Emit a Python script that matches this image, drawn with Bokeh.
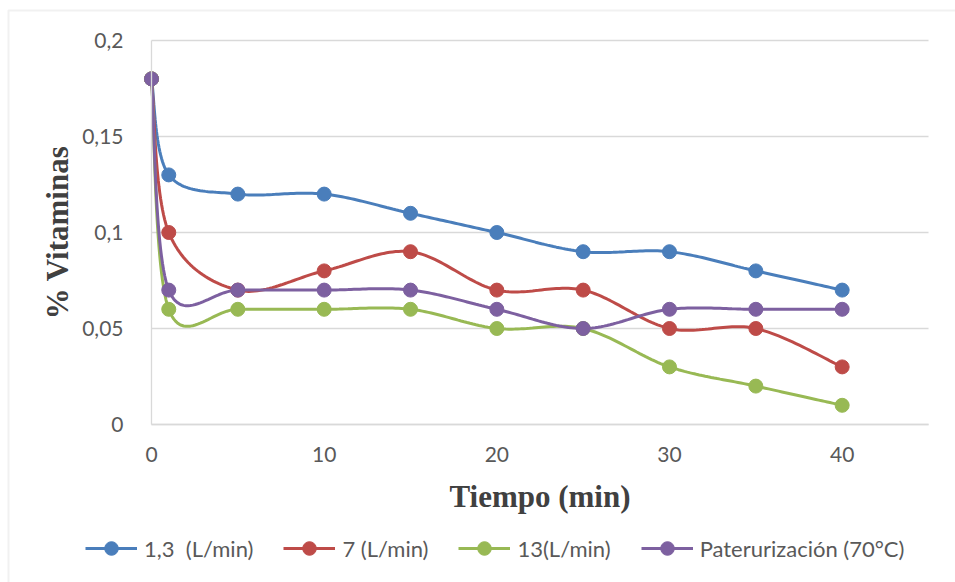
import numpy as np
from bokeh.plotting import figure
from bokeh.models import Range1d, FixedTicker, Legend, LegendItem, BoxAnnotation
from bokeh.embed import file_html
from bokeh.resources import INLINE

# ---- data ----
tiempo = [0, 1, 5, 10, 15, 20, 25, 30, 35, 40]
s_13 = [0.18, 0.13, 0.12, 0.12, 0.11, 0.10, 0.09, 0.09, 0.08, 0.07]
s_7 = [0.18, 0.10, 0.07, 0.08, 0.09, 0.07, 0.07, 0.05, 0.05, 0.03]
s_13b = [0.18, 0.06, 0.06, 0.06, 0.06, 0.05, 0.05, 0.03, 0.02, 0.01]
s_past = [0.18, 0.07, 0.07, 0.07, 0.07, 0.06, 0.05, 0.06, 0.06, 0.06]
labels = ["1,3  (L/min)", "7 (L/min)", "13(L/min)", "Paterurización (70°C)"]
colors = ["#4A7EBB", "#BE4B48", "#98B954", "#7D60A0"]
x_ticks = [0, 10, 20, 30, 40]
y_ticks = [0, 0.05, 0.1, 0.15, 0.2]
y_tick_labels = ["0", "0,05", "0,1", "0,15", "0,2"]

TICK_FONT = "Lato"
TITLE_FONT = "Liberation Serif"
GRID = "#D9D9D9"

W, H = 955, 582
# plot-area margins in pixels (the whole canvas is the frame; axes sit at fixed locations)
L, R, T, B = 151, 27, 40, 158
X0, X1, Y0, Y1 = 0, 45, 0, 0.2
fw, fh = W - L - R, H - T - B
sx, sy = fw / (X1 - X0), fh / (Y1 - Y0)


def smooth(xs, ys, n=30):
    # Excel-like smoothed line (Catmull-Rom Bezier) computed in screen space
    P = np.column_stack([np.array(xs, float) * sx, np.array(ys, float) * sy])
    m = len(P)
    out = [P[0]]
    for i in range(m - 1):
        p0 = P[max(i - 1, 0)]
        p1 = P[i]
        p2 = P[i + 1]
        p3 = P[min(i + 2, m - 1)]
        c1 = p1 + (p2 - p0) / 6.0
        c2 = p2 - (p3 - p1) / 6.0
        t = np.linspace(0, 1, n)[1:, None]
        seg = ((1 - t) ** 3) * p1 + 3 * ((1 - t) ** 2) * t * c1 + 3 * (1 - t) * t ** 2 * c2 + t ** 3 * p2
        out.extend(seg)
    out = np.array(out)
    return out[:, 0] / sx, out[:, 1] / sy


p = figure(width=W, height=H, output_backend="svg", toolbar_location=None,
           x_range=Range1d(X0 - L / sx, X1 + R / sx),
           y_range=Range1d(Y0 - B / sy, Y1 + T / sy),
           min_border=0)
p.outline_line_color = None
p.background_fill_color = "white"
p.border_fill_color = "white"
p.xgrid.grid_line_color = None
p.ygrid.grid_line_color = None

# horizontal gridlines over the plot area
p.segment(x0=X0, x1=X1, y0=y_ticks, y1=y_ticks, line_color=GRID, line_width=1.3)

p.xaxis.ticker = FixedTicker(ticks=x_ticks)
p.yaxis.ticker = FixedTicker(ticks=y_ticks)
p.yaxis.major_label_overrides = {v: s for v, s in zip(y_ticks, y_tick_labels)}
p.xaxis.fixed_location = Y0
p.yaxis.fixed_location = X0
p.xaxis.bounds = (X0, X1)
p.yaxis.bounds = (Y0, Y1)

for ax in (p.xaxis[0], p.yaxis[0]):
    ax.axis_line_color = GRID
    ax.axis_line_width = 1.3
    ax.major_tick_line_color = None
    ax.minor_tick_line_color = None
    ax.major_label_text_font = TICK_FONT
    ax.major_label_text_font_size = "21px"
    ax.major_label_text_color = "#595959"
    ax.axis_label_text_font = TITLE_FONT
    ax.axis_label_text_font_style = "bold"
    ax.axis_label_text_font_size = "31px"
    ax.axis_label_text_color = "#404040"

p.xaxis.axis_label = "Tiempo (min)"
p.yaxis.axis_label = "% Vitaminas"
p.yaxis.major_label_standoff = 22
p.xaxis.major_label_standoff = 16
p.yaxis.axis_label_standoff = 4
p.xaxis.axis_label_standoff = 14

items = []
for ys, lab, col in zip([s_13, s_7, s_13b, s_past], labels, colors):
    cx, cy = smooth(tiempo, ys)
    r1 = p.line(cx, cy, line_color=col, line_width=3)
    r2 = p.scatter(tiempo, ys, marker="circle", size=14, fill_color=col, line_color=col)
    items.append(LegendItem(label=lab, renderers=[r1, r2]))

legend = Legend(items=items, orientation="horizontal", location=(85, 17),
                glyph_width=52, glyph_height=34, spacing=30, label_standoff=7,
                padding=0, margin=0, border_line_color=None, background_fill_alpha=0,
                label_text_font=TICK_FONT, label_text_font_size="22px",
                label_text_color="#595959")
p.add_layout(legend, "center")

border = BoxAnnotation(left=8, right=2000, top=10, bottom=2000,
                       left_units="canvas", right_units="canvas",
                       top_units="canvas", bottom_units="canvas",
                       fill_alpha=0, line_color="#CFCFCF", line_width=2)
p.add_layout(border)

open("out.html", "w").write(file_html(p, INLINE))
